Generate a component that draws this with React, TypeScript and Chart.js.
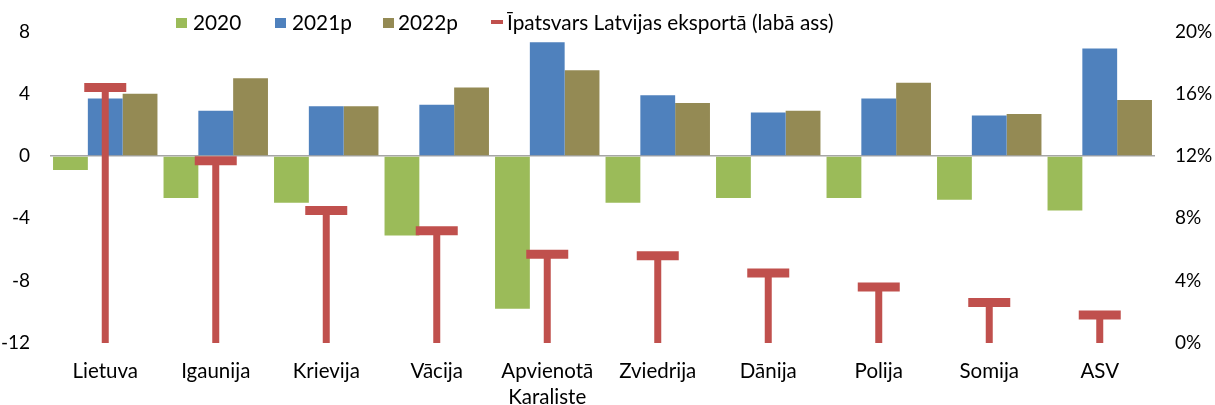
import React, { useEffect, useRef } from 'react';
import { Chart, registerables } from 'chart.js';

Chart.register(...registerables);

const categories: (string | string[])[] = [
  'Lietuva',
  'Igaunija',
  'Krievija',
  'Vācija',
  ['Apvienotā', 'Karaliste'],
  'Zviedrija',
  'Dānija',
  'Polija',
  'Somija',
  'ASV',
];

const series2020 = [-0.9, -2.7, -3.0, -5.1, -9.8, -3.0, -2.7, -2.7, -2.8, -3.5];
const series2021p = [3.7, 2.9, 3.2, 3.3, 7.3, 3.9, 2.8, 3.7, 2.6, 6.9];
const series2022p = [4.0, 5.0, 3.2, 4.4, 5.5, 3.4, 2.9, 4.7, 2.7, 3.6];
const exportShare = [16.4, 11.7, 8.5, 7.2, 5.7, 5.6, 4.5, 3.6, 2.6, 1.8];

const legendLabels = ['2020', '2021p', '2022p', 'Īpatsvars Latvijas eksportā (labā ass)'];

const COLORS = {
  green: '#9BBB59',
  blue: '#4F81BD',
  olive: '#948A54',
  red: '#C0504D',
};

const FONT_FAMILY = 'Lato, "Open Sans", sans-serif';
const TICK_SIZE = 19;
const LABEL_SIZE = 20.5;
const LEGEND_SIZE = 20.8;

const legendPlugin = {
  id: 'customLegend',
  afterDraw(chart: any) {
    const ctx = chart.ctx as CanvasRenderingContext2D;
    ctx.save();
    ctx.font = `${LEGEND_SIZE}px ${FONT_FAMILY}`;
    ctx.textBaseline = 'middle';
    ctx.textAlign = 'left';
    ctx.fillStyle = '#000';
    const cy = 22;
    const boxes = [
      { color: COLORS.green, x: 176, tx: 193 },
      { color: COLORS.blue, x: 275, tx: 292 },
      { color: COLORS.olive, x: 383, tx: 398 },
    ];
    boxes.forEach((b, i) => {
      ctx.fillStyle = b.color;
      ctx.fillRect(b.x, cy - 4, 11, 10);
      ctx.fillStyle = '#000';
      ctx.fillText(legendLabels[i], b.tx, cy + 1);
    });
    ctx.fillStyle = COLORS.red;
    ctx.fillRect(491, cy - 2, 12, 4);
    ctx.fillStyle = '#000';
    ctx.fillText(legendLabels[3], 507, cy + 1);
    ctx.restore();
  },
};

export default function App() {
  const canvasRef = useRef<HTMLCanvasElement | null>(null);

  useEffect(() => {
    if (!canvasRef.current) return;
    const tickFont = { family: FONT_FAMILY, size: TICK_SIZE };
    const labelFont = { family: FONT_FAMILY, size: LABEL_SIZE, lineHeight: 1.24 };
    const chart = new Chart(canvasRef.current, {
      type: 'bar',
      data: {
        labels: categories as any,
        datasets: [
          {
            type: 'line',
            label: legendLabels[3] + ' cap',
            data: exportShare,
            yAxisID: 'y2',
            showLine: false,
            pointStyle: 'line',
            pointRadius: 21,
            pointBorderWidth: 9,
            pointBorderColor: COLORS.red,
            pointBackgroundColor: COLORS.red,
            order: 0,
          } as any,
          {
            type: 'bar',
            label: legendLabels[3],
            data: exportShare,
            yAxisID: 'y2',
            grouped: false,
            maxBarThickness: 7,
            backgroundColor: COLORS.red,
            order: 1,
          } as any,
          {
            label: legendLabels[0],
            data: series2020,
            yAxisID: 'y',
            backgroundColor: COLORS.green,
            categoryPercentage: 0.945,
            barPercentage: 1,
            order: 2,
          },
          {
            label: legendLabels[1],
            data: series2021p,
            yAxisID: 'y',
            backgroundColor: COLORS.blue,
            categoryPercentage: 0.945,
            barPercentage: 1,
            order: 2,
          },
          {
            label: legendLabels[2],
            data: series2022p,
            yAxisID: 'y',
            backgroundColor: COLORS.olive,
            categoryPercentage: 0.945,
            barPercentage: 1,
            order: 2,
          },
        ],
      },
      options: {
        responsive: false,
        animation: false,
        layout: { padding: { top: 29, bottom: 0, left: 0, right: 0 } },
        plugins: {
          legend: { display: false },
          tooltip: { enabled: false },
        },
        scales: {
          x: {
            grid: { display: false, drawTicks: false },
            border: { display: false },
            ticks: {
              font: labelFont,
              color: '#000',
              padding: 16,
              maxRotation: 0,
              autoSkip: false,
            },
            afterFit: (s: any) => {
              s.height = 62;
            },
          },
          y: {
            position: 'left',
            min: -12,
            max: 8,
            ticks: { stepSize: 4, font: tickFont, color: '#000', padding: 20 },
            grid: {
              drawTicks: false,
              lineWidth: 1.5,
              color: (c: any) => (c.tick && c.tick.value === 0 ? '#A6A6A6' : 'rgba(0,0,0,0)'),
            },
            border: { display: false },
            afterFit: (s: any) => {
              s.width = 50;
            },
          },
          y2: {
            position: 'right',
            min: 0,
            max: 20,
            ticks: {
              stepSize: 4,
              font: tickFont,
              color: '#000',
              padding: 20,
              callback: (v: any) => `${v}%`,
            },
            grid: { display: false, drawTicks: false },
            border: { display: false },
            afterFit: (s: any) => {
              s.width = 60;
            },
          },
        },
      },
      plugins: [legendPlugin],
    });
    return () => chart.destroy();
  }, []);

  return (
    <div style={{ position: 'fixed', left: 0, top: 0, width: 1215, height: 405, background: '#fff' }}>
      <canvas ref={canvasRef} width={1215} height={405} style={{ display: 'block' }} />
    </div>
  );
}
